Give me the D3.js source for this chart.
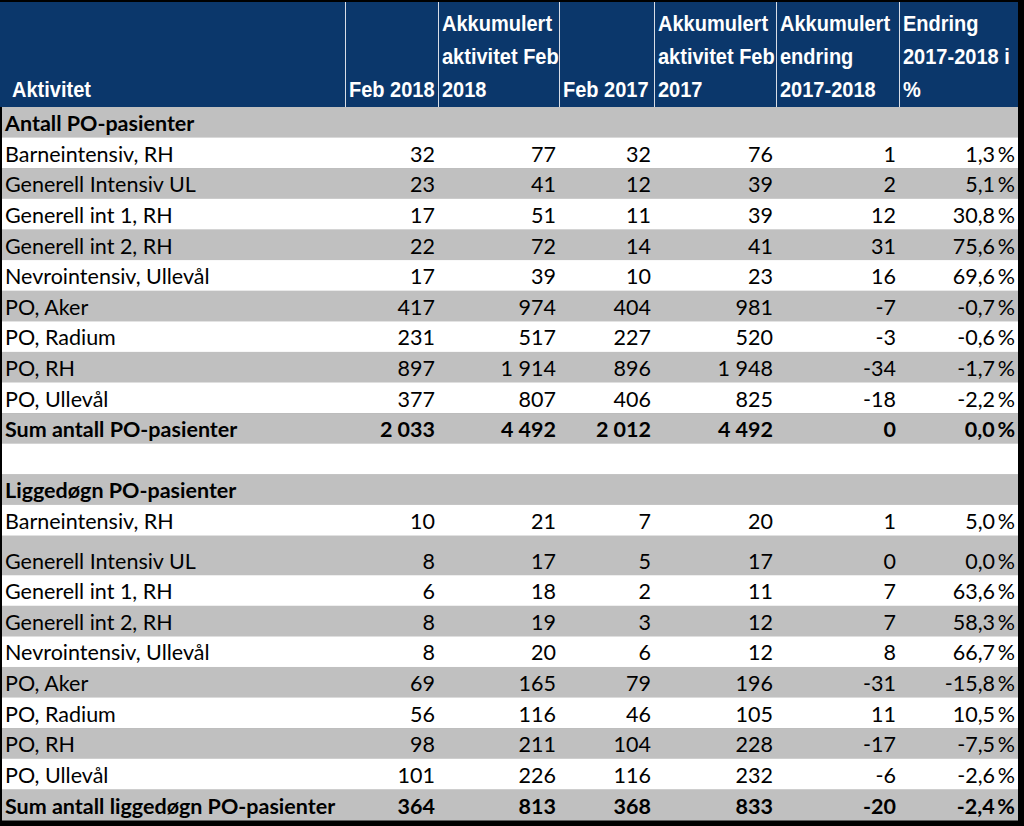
<!DOCTYPE html>
<html><head><meta charset="utf-8">
<script src="https://cdn.jsdelivr.net/npm/d3@7"></script>
<style>
html,body{margin:0;padding:0;background:#000;}
svg{display:block;}
</style></head>
<body>
<svg id="chart" width="1024" height="826"></svg>
<script>
// ---------- DATA ----------
const headerLines = [
  ["Aktivitet"],
  ["Feb 2018"],
  ["Akkumulert", "aktivitet Feb", "2018"],
  ["Feb 2017"],
  ["Akkumulert", "aktivitet Feb", "2017"],
  ["Akkumulert", "endring", "2017-2018"],
  ["Endring", "2017-2018 i", "%"]
];
const sectionTitles = ["Antall PO-pasienter", "Liggedøgn PO-pasienter"];
const unitLabels = ["Barneintensiv, RH", "Generell Intensiv UL", "Generell int 1, RH", "Generell int 2, RH",
  "Nevrointensiv, Ullevål", "PO, Aker", "PO, Radium", "PO, RH", "PO, Ullevål"];
const sumLabels = ["Sum antall PO-pasienter", "Sum antall liggedøgn PO-pasienter"];

// Section 1: Antall PO-pasienter (last value = sum row)
const antallFeb2018   = [32, 23, 17, 22, 17, 417, 231, 897, 377, 2033];
const antallAkk2018   = [77, 41, 51, 72, 39, 974, 517, 1914, 807, 4492];
const antallFeb2017   = [32, 12, 11, 14, 10, 404, 227, 896, 406, 2012];
const antallAkk2017   = [76, 39, 39, 41, 23, 981, 520, 1948, 825, 4492];
const antallEndring   = [1, 2, 12, 31, 16, -7, -3, -34, -18, 0];
const antallEndringPct = [1.3, 5.1, 30.8, 75.6, 69.6, -0.7, -0.6, -1.7, -2.2, 0.0];

// Section 2: Liggedøgn PO-pasienter (last value = sum row)
const liggFeb2018   = [10, 8, 6, 8, 8, 69, 56, 98, 101, 364];
const liggAkk2018   = [21, 17, 18, 19, 20, 165, 116, 211, 226, 813];
const liggFeb2017   = [7, 5, 2, 3, 6, 79, 46, 104, 116, 368];
const liggAkk2017   = [20, 17, 11, 12, 12, 196, 105, 228, 232, 833];
const liggEndring   = [1, 0, 7, 7, 8, -31, 11, -17, -6, -20];
const liggEndringPct = [5.0, 0.0, 63.6, 58.3, 66.7, -15.8, 10.5, -7.5, -2.6, -2.4];

// ---------- LAYOUT ----------
const W = 1024, H = 826;
const colEdges = [0, 345, 438, 559, 654, 776, 899, 1018];
const headerTop = 2, headerBottom = 107, tableBottom = 820;
const navy = "#0b376b", gray = "#c0c0c0";

const loc = d3.formatLocale({decimal: ",", thousands: "\u00a0", grouping: [3], currency: ["", ""], minus: "-"});
const fInt = loc.format(",d");
const fPct = v => loc.format(",.1f")(v) + "\u2009%";

const sections = [
  {title: sectionTitles[0], sum: sumLabels[0], cols: [antallFeb2018, antallAkk2018, antallFeb2017, antallAkk2017, antallEndring, antallEndringPct]},
  {title: sectionTitles[1], sum: sumLabels[1], cols: [liggFeb2018, liggAkk2018, liggFeb2017, liggAkk2017, liggEndring, liggEndringPct]}
];
const rows = [];
sections.forEach((s, si) => {
  if (si > 0) rows.push({type: "blank"});
  rows.push({type: "section", label: s.title});
  unitLabels.concat([s.sum]).forEach((lab, i) => {
    const vals = s.cols.map((c, ci) => ci === 5 ? fPct(c[i]) : fInt(c[i]));
    rows.push({type: i === unitLabels.length ? "sum" : "data", label: lab, vals, idx: i, sec: si});
  });
});

// row heights: one taller row in section 2 (Generell Intensiv UL)
const tallExtra = 9;
const baseH = (tableBottom - headerBottom - tallExtra) / rows.length;
let yy = headerBottom;
rows.forEach(r => {
  const h = baseH + ((r.sec === 1 && r.idx === 1) ? tallExtra : 0);
  r.y0 = yy; r.y1 = yy + h; yy += h;
});

const x = i => colEdges[i];

const svg = d3.select("#chart");
svg.append("rect").attr("width", W).attr("height", H).attr("fill", "#000");

// header
svg.append("rect").attr("x", 0).attr("y", headerTop).attr("width", colEdges[7]).attr("height", headerBottom - headerTop).attr("fill", navy);
svg.selectAll("line.hdiv").data(colEdges.slice(1, 7)).enter().append("line")
  .attr("x1", d => d + 0.5).attr("x2", d => d + 0.5).attr("y1", headerTop).attr("y2", headerBottom)
  .attr("stroke", "#d8dde6").attr("stroke-width", 1);

const lineGap = 33, hdrBase = 97;
headerLines.forEach((lines, ci) => {
  lines.forEach((t, li) => {
    const tx = ci === 0 ? x(ci) + 12 : x(ci) + 4;
    const ty = hdrBase - (lines.length - 1 - li) * lineGap;
    svg.append("text")
      .attr("transform", `translate(${tx},${ty}) scale(0.91,1)`)
      .attr("fill", "#fff")
      .attr("font-family", "'Liberation Sans', Arial, sans-serif")
      .attr("font-weight", "bold")
      .attr("font-size", "22px")
      .text(t);
  });
});

// body rows
const fillFor = r => {
  if (r.type === "section" || r.type === "sum") return gray;
  if (r.type === "blank") return "#fff";
  return r.idx % 2 === 1 ? gray : "#fff";
};
const body = svg.append("g");
body.selectAll("rect.row").data(rows).enter().append("rect")
  .attr("x", 2).attr("y", d => d.y0).attr("width", colEdges[7] - 2).attr("height", d => d.y1 - d.y0 + 0.5)
  .attr("fill", fillFor);

const bodyFont = "Lato, 'Open Sans', sans-serif";
const bodySize = "21.5px";
body.selectAll("text.lab").data(rows.filter(r => r.label)).enter().append("text")
  .attr("x", 5).attr("y", d => d.y1 - 6.5)
  .attr("font-family", bodyFont).attr("font-size", bodySize)
  .attr("font-weight", d => d.type === "data" ? "normal" : "bold")
  .attr("fill", "#000")
  .text(d => d.label);

rows.filter(r => r.vals).forEach(r => {
  r.vals.forEach((v, ci) => {
    body.append("text")
      .attr("x", x(ci + 2) - 3).attr("y", r.y1 - 6.5)
      .attr("text-anchor", "end")
      .attr("font-family", bodyFont).attr("font-size", bodySize)
      .attr("font-weight", r.type === "sum" ? "bold" : "normal")
      .attr("fill", "#000")
      .text(v);
  });
});
</script>
</body></html>
